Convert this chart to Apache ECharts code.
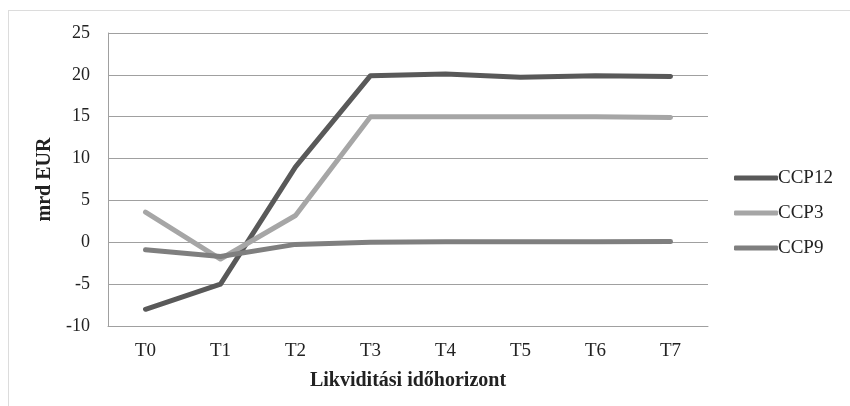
<!DOCTYPE html>
<html>
<head>
<meta charset="utf-8">
<script src="https://cdn.jsdelivr.net/npm/echarts@6/dist/echarts.min.js"></script>
<style>
  html, body { margin: 0; padding: 0; background: #fff; }
  #frame { position: absolute; left: 8px; top: 10px; width: 850px; height: 400px; border: 1px solid #dcdcdc; }
  #chart { position: absolute; left: 0; top: 0; width: 850px; height: 406px; }
</style>
</head>
<body>
<div id="frame"></div>
<div id="chart"></div>
<script>
const categories = ['T0', 'T1', 'T2', 'T3', 'T4', 'T5', 'T6', 'T7']
const ccp12 = [-8, -5, 9, 19.9, 20.1, 19.7, 19.9, 19.8]
const ccp3 = [3.6, -2, 3.2, 15, 15, 15, 15, 14.9]
const ccp9 = [-0.9, -1.7, -0.25, 0, 0.05, 0.05, 0.05, 0.1]

const font = '"Liberation Serif", "Times New Roman", serif'

const mkSeries = (name, data, color) => ({
  name: name,
  type: 'line',
  data: data,
  symbol: 'none',
  smooth: false,
  itemStyle: { color: color },
  lineStyle: { color: color, width: 5, cap: 'round', join: 'round' },
})

const option = {
  animation: false,
  textStyle: { fontFamily: font },
  grid: { left: 108, right: 142, top: 33, bottom: 80 },
  legend: {
    orient: 'vertical',
    left: 734,
    top: 168,
    padding: 0,
    icon: 'roundRect',
    itemWidth: 44,
    itemHeight: 5,
    itemGap: 15,
    textStyle: { fontFamily: font, fontSize: 19, lineHeight: 20, color: '#222', padding: [0, 0, 0, -5] },
    data: ['CCP12', 'CCP3', 'CCP9'],
  },
  xAxis: {
    type: 'category',
    data: categories,
    name: 'Likviditási időhorizont',
    nameLocation: 'middle',
    nameGap: 45,
    nameTextStyle: { fontFamily: font, fontSize: 20, fontWeight: 'bold', color: '#222' },
    axisLine: { onZero: false, lineStyle: { color: '#a0a0a0' } },
    axisTick: { show: false },
    axisLabel: { fontFamily: font, fontSize: 19, color: '#222', margin: 16 },
  },
  yAxis: {
    type: 'value',
    min: -10,
    max: 25,
    interval: 5,
    name: 'mrd EUR',
    nameLocation: 'middle',
    nameGap: 50,
    nameTextStyle: { fontFamily: font, fontSize: 20, fontWeight: 'bold', color: '#222' },
    axisLine: { show: true, lineStyle: { color: '#a0a0a0' } },
    axisTick: { show: false },
    axisLabel: { fontFamily: font, fontSize: 18, color: '#222', margin: 18 },
    splitLine: { lineStyle: { color: '#a0a0a0', width: 1 } },
  },
  series: [
    mkSeries('CCP12', ccp12, '#595959'),
    mkSeries('CCP3', ccp3, '#a6a6a6'),
    mkSeries('CCP9', ccp9, '#7f7f7f'),
  ],
}

const c = echarts.init(document.getElementById('chart'))
c.setOption(option)
</script>
</body>
</html>
